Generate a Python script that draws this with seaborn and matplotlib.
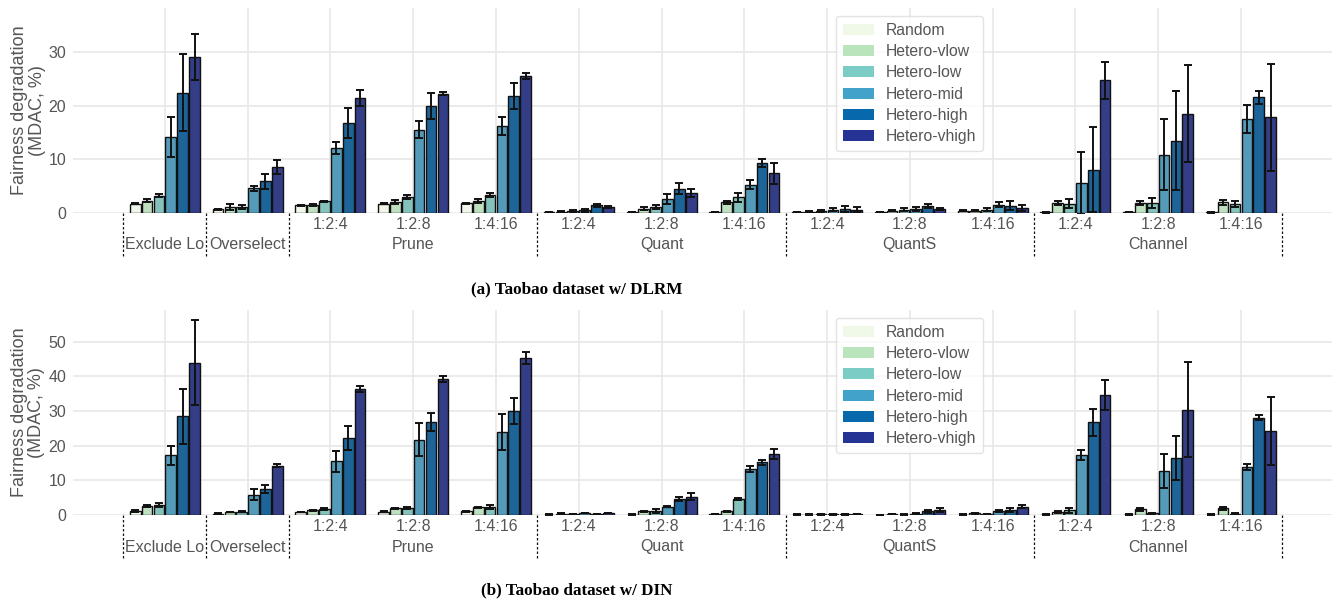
import numpy as np
import pandas as pd
import matplotlib
matplotlib.use("Agg")
import matplotlib.pyplot as plt
from matplotlib.patches import Patch
from matplotlib.transforms import blended_transform_factory
import seaborn as sns

# ---------------- data ----------------
CATEGORIES = ["Exclude Lo", "Overselect",
              "Prune 1:2:4", "Prune 1:2:8", "Prune 1:4:16",
              "Quant 1:2:4", "Quant 1:2:8", "Quant 1:4:16",
              "QuantS 1:2:4", "QuantS 1:2:8", "QuantS 1:4:16",
              "Channel 1:2:4", "Channel 1:2:8", "Channel 1:4:16"]
TICK_LABELS = ["", "", "1:2:4", "1:2:8", "1:4:16", "1:2:4", "1:2:8", "1:4:16",
               "1:2:4", "1:2:8", "1:4:16", "1:2:4", "1:2:8", "1:4:16"]
GROUP_LABELS = ["Exclude Lo", "Overselect", "Prune", "Quant", "QuantS", "Channel"]
GROUP_CENTERS = [0, 1, 3, 6, 9, 12]          # category index under each group label
SEPARATORS = [-0.5, 0.5, 1.5, 4.5, 7.5, 10.5, 13.5]
METHODS = ["Random", "Hetero-vlow", "Hetero-low", "Hetero-mid", "Hetero-high", "Hetero-vhigh"]
COLORS = ["#f0f9e8", "#bae4bc", "#7bccc4", "#43a2ca", "#0868ac", "#253494"]

# (a) Taobao w/ DLRM
DLRM_RANDOM = [1.7, 0.7, 1.4, 1.7, 1.85, 0.2, 0.2, 0.2, 0.15, 0.2, 0.45, 0.1, 0.2, 0.1]
DLRM_VLOW = [2.3, 1.1, 1.5, 2.0, 2.3, 0.25, 0.8, 2.0, 0.25, 0.45, 0.4, 1.8, 1.8, 2.0]
DLRM_LOW = [3.2, 1.1, 2.2, 3.0, 3.3, 0.4, 1.1, 2.9, 0.4, 0.6, 0.6, 1.75, 1.85, 1.7]
DLRM_MID = [14.2, 4.6, 12.1, 15.5, 16.2, 0.5, 2.6, 5.3, 0.6, 0.75, 1.55, 5.6, 10.9, 17.6]
DLRM_HIGH = [22.4, 5.9, 16.8, 20.0, 21.8, 1.4, 4.5, 9.3, 0.75, 1.3, 1.35, 8.1, 13.5, 21.6]
DLRM_VHIGH = [29.1, 8.5, 21.4, 22.2, 25.5, 1.05, 3.7, 7.4, 0.6, 0.75, 0.9, 24.7, 18.5, 17.8]
DLRM_RANDOM_ERR = [0.1, 0.05, 0.05, 0.1, 0.1, 0.05, 0.05, 0.05, 0.05, 0.05, 0.05, 0.05, 0.05, 0.05]
DLRM_VLOW_ERR = [0.3, 0.5, 0.2, 0.4, 0.4, 0.05, 0.3, 0.3, 0.05, 0.1, 0.1, 0.4, 0.4, 0.5]
DLRM_LOW_ERR = [0.3, 0.4, 0.1, 0.4, 0.4, 0.2, 0.3, 0.8, 0.2, 0.3, 0.3, 0.9, 0.9, 0.5]
DLRM_MID_ERR = [3.7, 0.5, 1.1, 1.6, 1.6, 0.3, 0.9, 0.9, 0.3, 0.3, 0.5, 5.8, 6.6, 2.6]
DLRM_HIGH_ERR = [7.2, 1.4, 2.8, 2.4, 2.5, 0.3, 1.0, 0.8, 0.5, 0.3, 0.8, 8.0, 9.3, 1.2]
DLRM_VHIGH_ERR = [4.3, 1.3, 1.5, 0.3, 0.5, 0.2, 0.7, 2.0, 0.5, 0.1, 0.5, 3.5, 9.0, 10.0]

# (b) Taobao w/ DIN
DIN_RANDOM = [1.05, 0.4, 0.8, 0.95, 1.05, 0.1, 0.1, 0.3, 0.1, 0.05, 0.1, 0.1, 0.1, 0.1]
DIN_VLOW = [2.6, 0.85, 1.35, 1.9, 2.2, 0.4, 1.05, 1.05, 0.1, 0.2, 0.5, 0.9, 1.6, 1.9]
DIN_LOW = [2.9, 0.95, 1.7, 2.0, 2.2, 0.2, 1.05, 4.7, 0.15, 0.1, 0.2, 1.3, 0.5, 0.4]
DIN_MID = [17.2, 5.9, 15.5, 21.7, 24.0, 0.5, 2.4, 13.2, 0.15, 0.4, 1.1, 17.3, 12.7, 13.9]
DIN_HIGH = [28.4, 7.4, 22.3, 26.9, 29.9, 0.3, 4.7, 15.2, 0.15, 1.1, 1.4, 26.7, 16.5, 28.1]
DIN_VHIGH = [43.9, 14.2, 36.3, 39.1, 45.3, 0.5, 5.3, 17.6, 0.2, 1.5, 2.4, 34.6, 30.4, 24.2]
DIN_RANDOM_ERR = [0.3, 0.05, 0.05, 0.1, 0.1, 0.05, 0.05, 0.05, 0.05, 0.05, 0.05, 0.05, 0.05, 0.05]
DIN_VLOW_ERR = [0.3, 0.1, 0.1, 0.2, 0.2, 0.1, 0.2, 0.2, 0.05, 0.05, 0.1, 0.2, 0.4, 0.4]
DIN_LOW_ERR = [0.6, 0.1, 0.4, 0.4, 0.6, 0.05, 0.6, 0.3, 0.05, 0.05, 0.05, 0.6, 0.1, 0.1]
DIN_MID_ERR = [2.7, 1.7, 3.0, 4.8, 5.2, 0.05, 0.2, 0.9, 0.05, 0.1, 0.3, 1.4, 4.8, 0.9]
DIN_HIGH_ERR = [8.0, 1.2, 3.5, 2.6, 3.7, 0.05, 0.6, 0.8, 0.05, 0.4, 0.5, 3.9, 6.4, 0.8]
DIN_VHIGH_ERR = [12.2, 0.5, 0.8, 0.9, 1.7, 0.05, 0.9, 1.5, 0.05, 0.6, 0.4, 4.2, 13.6, 9.9]

PANELS = [
    dict(vals=[DLRM_RANDOM, DLRM_VLOW, DLRM_LOW, DLRM_MID, DLRM_HIGH, DLRM_VHIGH],
         errs=[DLRM_RANDOM_ERR, DLRM_VLOW_ERR, DLRM_LOW_ERR, DLRM_MID_ERR, DLRM_HIGH_ERR, DLRM_VHIGH_ERR],
         yticks=[0, 10, 20, 30], ylim=(0, 38.2), caption="(a) Taobao dataset w/ DLRM"),
    dict(vals=[DIN_RANDOM, DIN_VLOW, DIN_LOW, DIN_MID, DIN_HIGH, DIN_VHIGH],
         errs=[DIN_RANDOM_ERR, DIN_VLOW_ERR, DIN_LOW_ERR, DIN_MID_ERR, DIN_HIGH_ERR, DIN_VHIGH_ERR],
         yticks=[0, 10, 20, 30, 40, 50], ylim=(0, 59.1), caption="(b) Taobao dataset w/ DIN"),
]

# ---------------- style ----------------
sns.set_theme(style="whitegrid")
TXT = "#555555"
plt.rcParams.update({
    "font.family": ["Liberation Sans", "DejaVu Sans"],
    "axes.edgecolor": "white",
    "grid.color": "#e6e6e6",
    "grid.linewidth": 1.1,
    "xtick.color": TXT,
    "ytick.color": TXT,
    "axes.labelcolor": TXT,
    "text.color": TXT,
})

fig = plt.figure(figsize=(13.32, 6.02), dpi=100)
W, H = 1332, 602
axes_px = [(73, 8, 213), (73, 310, 515)]  # left, top, bottom in pixels
caption_y = [289, 590]

for p, (panel, (lx, ty, by)) in enumerate(zip(PANELS, axes_px)):
    ax = fig.add_axes([lx / W, 1 - by / H, 1 - lx / W, (by - ty) / H])
    rows = []
    for m, vals in zip(METHODS, panel["vals"]):
        for c, v in zip(CATEGORIES, vals):
            rows.append({"cat": c, "method": m, "val": v})
    df = pd.DataFrame(rows)
    sns.barplot(data=df, x="cat", y="val", hue="method", order=CATEGORIES,
                hue_order=METHODS, palette=COLORS, width=0.86, gap=0.1,
                edgecolor="#111111", linewidth=1.0, errorbar=None,
                legend=False, ax=ax, zorder=2)
    # error bars at the bar centres produced by seaborn
    for cont, errs in zip(ax.containers, panel["errs"]):
        xs = [b.get_x() + b.get_width() / 2 for b in cont]
        hs = [b.get_height() for b in cont]
        ax.errorbar(xs, hs, yerr=errs, fmt="none", ecolor="#111111",
                    elinewidth=1.4, capsize=3.2, capthick=1.4, zorder=3)

    ax.set_xlim(-1.11, 14.1)
    ax.set_ylim(*panel["ylim"])
    ax.set_yticks(panel["yticks"])
    ax.set_xticks(range(len(CATEGORIES)))
    ax.set_xticklabels(TICK_LABELS, fontsize=11.5)
    ax.tick_params(axis="y", labelsize=11.5, length=0, pad=5)
    ax.tick_params(axis="x", length=0, pad=3)
    ax.xaxis.grid(True)
    ax.yaxis.grid(True)
    ax.set_axisbelow(True)
    for s in ax.spines.values():
        s.set_visible(False)
    ax.set_xlabel("")
    ax.set_ylabel("Fairness degradation\n(MDAC, %)", fontsize=13, labelpad=2,
                  linespacing=1.05)

    trans = blended_transform_factory(ax.transData, ax.transAxes)
    for gl, gc in zip(GROUP_LABELS, GROUP_CENTERS):
        ax.text(gc, -32 / 205, gl, transform=trans, ha="center", va="center",
                fontsize=11.5, color=TXT)
    for sx in SEPARATORS:
        ax.plot([sx, sx], [0, -0.215], transform=trans, color="#111111",
                lw=0.9, ls=(0, (2, 1.6)), clip_on=False)

    handles = [Patch(facecolor=c, edgecolor="none", label=m) for m, c in zip(METHODS, COLORS)]
    leg = ax.legend(handles=handles, loc="upper left", bbox_to_anchor=(0.606, 0.96),
                    fontsize=11.3, frameon=True, handlelength=2.0, handleheight=0.72,
                    labelspacing=0.4, borderpad=0.42, handletextpad=0.75,
                    borderaxespad=0.0)
    leg.get_frame().set_edgecolor("#dddddd")
    leg.get_frame().set_linewidth(1.0)
    for t in leg.get_texts():
        t.set_color(TXT)

    fig.text(577 / W, 1 - caption_y[p] / H, panel["caption"], ha="center", va="center",
             fontsize=12.3, fontweight="bold", color="black",
             family=["Liberation Serif", "DejaVu Serif"])

fig.savefig("out.png", dpi=100)
